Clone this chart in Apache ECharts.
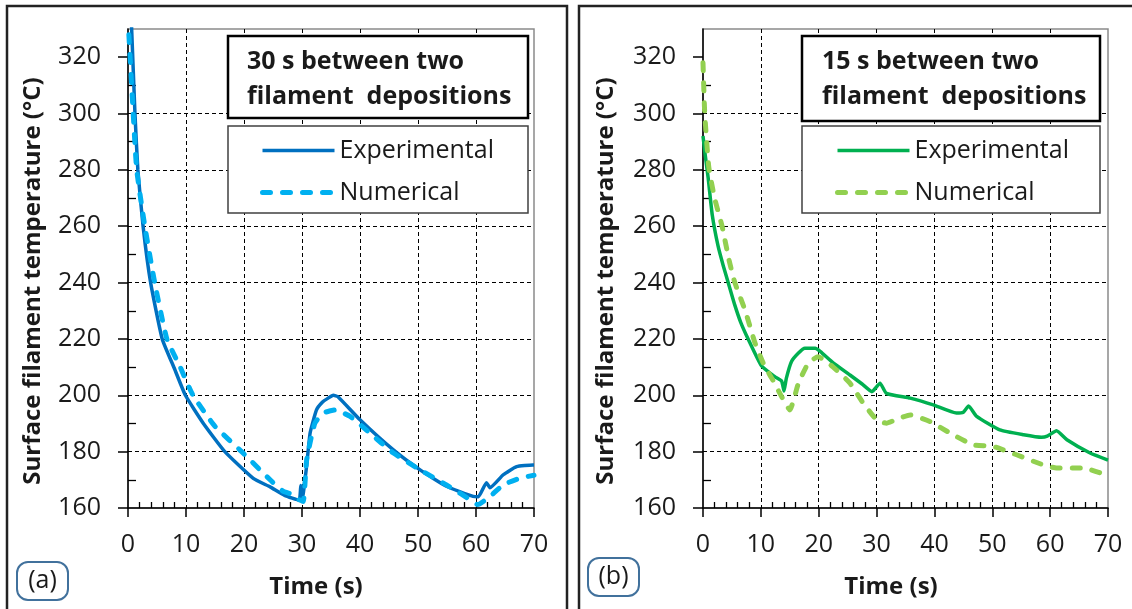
<!DOCTYPE html>
<html><head><meta charset="utf-8">
<script src="https://cdn.jsdelivr.net/npm/echarts@6/dist/echarts.min.js"></script>
<style>html,body{margin:0;padding:0;background:#fff}#c{width:1132px;height:609px}</style>
</head><body><div id="c"></div>
<script>
// ---- data ----
const yTicks = [160, 180, 200, 220, 240, 260, 280, 300, 320];
const xTicks = [0, 10, 20, 30, 40, 50, 60, 70];

// Panel (a): 30 s between two filament depositions
const tExpA = [0.4, 0.63, 1.2, 1.7, 2.6, 3.9, 5.9, 8, 9.9, 13, 16.7, 21.6, 24.5, 27, 29.5, 29.8, 30.1, 30.8, 31.4, 32.5, 33.5, 34.5, 35.4, 36.2, 40, 45.7, 50.3, 54.9, 59.5, 60.4, 61.8, 62.4, 64.7, 67, 69.8, 70];
const vExpA = [340, 330, 300, 280, 260, 240, 220, 209.5, 200, 190, 180, 170.5, 167.5, 164.5, 162.8, 168, 164, 175, 186.6, 194.8, 197.5, 199, 200, 199.5, 191.3, 180.7, 173.6, 167.7, 164.1, 164, 169, 167.2, 171.8, 174.7, 175.3, 175.3];
const tNumA = [0.15, 0.9, 1.5, 2.9, 4.6, 6.7, 9, 11.2, 15, 19.6, 24.5, 26.7, 28, 29.2, 30.2, 30.8, 32.2, 33.7, 35.7, 38.3, 41.7, 45.7, 50.3, 54.9, 59.5, 60.3, 62.4, 64.7, 67.6, 70];
const vNumA = [328, 300, 280, 260, 240, 220, 210, 200, 189, 180, 170, 166, 165, 163.2, 162.3, 177, 190, 193.7, 194.8, 192.5, 186.6, 179.6, 173.6, 168.2, 162.3, 161.2, 164.1, 168.2, 170.6, 171.6];

// Panel (b): 15 s between two filament depositions
const tExpB = [0, 0.4, 0.9, 1.6, 2.6, 3.5, 4.5, 5.5, 6.5, 7.8, 10.1, 12.4, 13.6, 14.0, 14.4, 15.3, 16.5, 17.6, 19.4, 20.3, 22.5, 25.4, 27.5, 29.2, 30.6, 31.7, 35.8, 39.8, 43.8, 45.0, 45.9, 47.3, 51.3, 55.4, 58.5, 59.5, 61.1, 62.9, 66.9, 70];
const vExpB = [292, 285, 277, 264, 253, 246, 239, 232, 226, 220, 210.5, 206.6, 205, 201.5, 206, 212, 215, 216.7, 216.7, 215.5, 211.5, 207.2, 204, 201.3, 204.3, 200.7, 199, 196.6, 193.7, 194, 196.2, 192.5, 187.7, 186, 185.1, 185.5, 187.4, 184.2, 179.5, 177];
const tNumB = [0, 0.3, 1.0, 2.0, 3.3, 4.5, 5.5, 7.3, 9, 10.5, 11.9, 13.6, 15, 16.5, 18.2, 19.9, 22.5, 25.4, 27.7, 30, 31.7, 33.5, 35.8, 39.2, 42.7, 46.7, 50.2, 54.2, 58.8, 61.1, 65.7, 70];
const vNumB = [318, 300, 281, 270, 260, 248, 240, 230, 218.5, 211, 206, 199.5, 194.8, 204.3, 211.4, 213.7, 210, 204.3, 197.2, 191.3, 190.1, 191.5, 193, 190.7, 186.6, 182.4, 181.8, 178.9, 175.3, 174.2, 174.2, 171.5];

const zip = (a, b) => a.map((t, i) => [t, b[i]]);

const FONT = 'Open Sans';
const TXT = '#1a1a1a';

function xAxisCfg(gi) {
  return {
    type: 'value', gridIndex: gi, min: 0, max: 70, interval: 10,
    axisLine: { show: true, onZero: false, lineStyle: { color: '#000', width: 1.5 } },
    axisTick: { show: true, length: 9, lineStyle: { color: '#000', width: 1.5 } },
    minorTick: { show: true, splitNumber: 5, length: -6, lineStyle: { color: '#000', width: 1.3 } },
    axisLabel: { margin: 24, fontSize: 25, fontFamily: FONT, color: TXT },
    splitLine: { show: true, showMinLine: false, showMaxLine: false, lineStyle: { color: '#000', type: [4, 3], width: 1 } }
  };
}
function yAxisCfg(gi) {
  return {
    type: 'value', gridIndex: gi, min: 160, max: 330, interval: 20,
    axisLine: { show: true, onZero: false, lineStyle: { color: '#000', width: 1.5 } },
    axisTick: { show: true, length: 10, customValues: yTicks, lineStyle: { color: '#000', width: 1.5 } },
    minorTick: { show: true, splitNumber: 2, length: -8, lineStyle: { color: '#000', width: 1.3 } },
    axisLabel: { margin: 27, fontSize: 25, fontFamily: FONT, color: TXT, customValues: yTicks },
    splitLine: { show: true, showMinLine: false, showMaxLine: false, lineStyle: { color: '#000', type: [4, 3], width: 1 } }
  };
}
function lineSeries(name, gi, data, color, width, dashed) {
  return {
    type: 'line', name, xAxisIndex: gi, yAxisIndex: gi, data,
    symbol: 'none', showSymbol: false, clip: true, smooth: 0.15,
    lineStyle: { color, width, type: dashed ? [8, 12] : 'solid', cap: dashed ? 'round' : 'butt', join: 'round' },
    itemStyle: { color }
  };
}
function legendCfg(left, names) {
  return {
    orient: 'vertical', left, top: 138, padding: 0, itemWidth: 72, itemHeight: 14, itemGap: 17,
    data: names, z: 30, selectedMode: false,
    itemStyle: { opacity: 0 },
    lineStyle: { width: 'inherit' },
    formatter: n => n.split(' ')[0],
    textStyle: { fontSize: 25, fontFamily: FONT, color: TXT }
  };
}

const BORDER = '#222';
const g = [];
// panel frames
g.push({ type: 'polyline', z: 25, shape: { points: [[7, 609], [7, 6], [567, 6], [567, 609]] }, style: { stroke: BORDER, lineWidth: 2.5, fill: null } });
g.push({ type: 'polyline', z: 25, shape: { points: [[579, 609], [579, 6], [1132, 6]] }, style: { stroke: BORDER, lineWidth: 2.5, fill: null } });
// annotation + legend boxes
function boxes(x0, x1, l1, annBottom, textX) {
  g.push({ type: 'rect', z: 20, shape: { x: x0, y: 36, width: x1 - x0, height: annBottom - 36 }, style: { fill: '#fff', stroke: '#000', lineWidth: 2.5 } });
  g.push({ type: 'text', z: 21, x: textX, y: 62, style: { text: l1, font: 'bold 25px "Open Sans"', fill: TXT, verticalAlign: 'middle' } });
  g.push({ type: 'text', z: 21, x: textX, y: 97, style: { text: 'filament  depositions', font: 'bold 25px "Open Sans"', fill: TXT, verticalAlign: 'middle' } });
  g.push({ type: 'rect', z: 20, shape: { x: x0, y: 126, width: x1 - x0, height: 87 }, style: { fill: '#fff', stroke: '#404040', lineWidth: 1.5 } });
}
boxes(228, 528, '30 s between two', 118, 247);
boxes(802, 1100, '15 s between two', 121, 822);
// panel labels
function tag(x, y, t) {
  g.push({ type: 'rect', z: 20, shape: { x, y, width: 51, height: 38, r: 11 }, style: { fill: '#fff', stroke: '#41719C', lineWidth: 2 } });
  g.push({ type: 'text', z: 21, x: x + 25.5, y: y + 19, style: { text: t, font: '25px "Open Sans"', fill: TXT, align: 'center', verticalAlign: 'middle' } });
}
tag(17, 562, '(a)');
tag(588, 558, '(b)');
// axis titles
const yTitle = 'Surface filament temperature (°C)';
g.push({ type: 'text', z: 21, x: 33, y: 281, rotation: Math.PI / 2, style: { text: yTitle, font: 'bold 24px "Open Sans"', fill: TXT, align: 'center', verticalAlign: 'middle' } });
g.push({ type: 'text', z: 21, x: 606, y: 281, rotation: Math.PI / 2, style: { text: yTitle, font: 'bold 24px "Open Sans"', fill: TXT, align: 'center', verticalAlign: 'middle' } });
g.push({ type: 'text', z: 21, x: 316, y: 587, style: { text: 'Time (s)', font: 'bold 24px "Open Sans"', fill: TXT, align: 'center', verticalAlign: 'middle' } });
g.push({ type: 'text', z: 21, x: 891, y: 587, style: { text: 'Time (s)', font: 'bold 24px "Open Sans"', fill: TXT, align: 'center', verticalAlign: 'middle' } });

const chart = echarts.init(document.getElementById('c'), null, { renderer: 'canvas' });
chart.setOption({
  animation: false,
  backgroundColor: '#fff',
  grid: [
    { left: 128, top: 29, width: 406, height: 479, show: true, borderColor: '#8a8a8a', borderWidth: 1.5, backgroundColor: 'transparent' },
    { left: 703, top: 29, width: 405, height: 479, show: true, borderColor: '#8a8a8a', borderWidth: 1.5, backgroundColor: 'transparent' }
  ],
  xAxis: [xAxisCfg(0), xAxisCfg(1)],
  yAxis: [yAxisCfg(0), yAxisCfg(1)],
  legend: [
    legendCfg(260, ['Experimental (a)', 'Numerical (a)']),
    legendCfg(835, ['Experimental (b)', 'Numerical (b)'])
  ],
  series: [
    lineSeries('Experimental (a)', 0, zip(tExpA, vExpA), '#0070C0', 3.5, false),
    lineSeries('Numerical (a)', 0, zip(tNumA, vNumA), '#00B0F0', 5, true),
    lineSeries('Experimental (b)', 1, zip(tExpB, vExpB), '#00B050', 3.5, false),
    lineSeries('Numerical (b)', 1, zip(tNumB, vNumB), '#92D050', 5, true)
  ],
  graphic: { elements: g }
});
</script></body></html>
